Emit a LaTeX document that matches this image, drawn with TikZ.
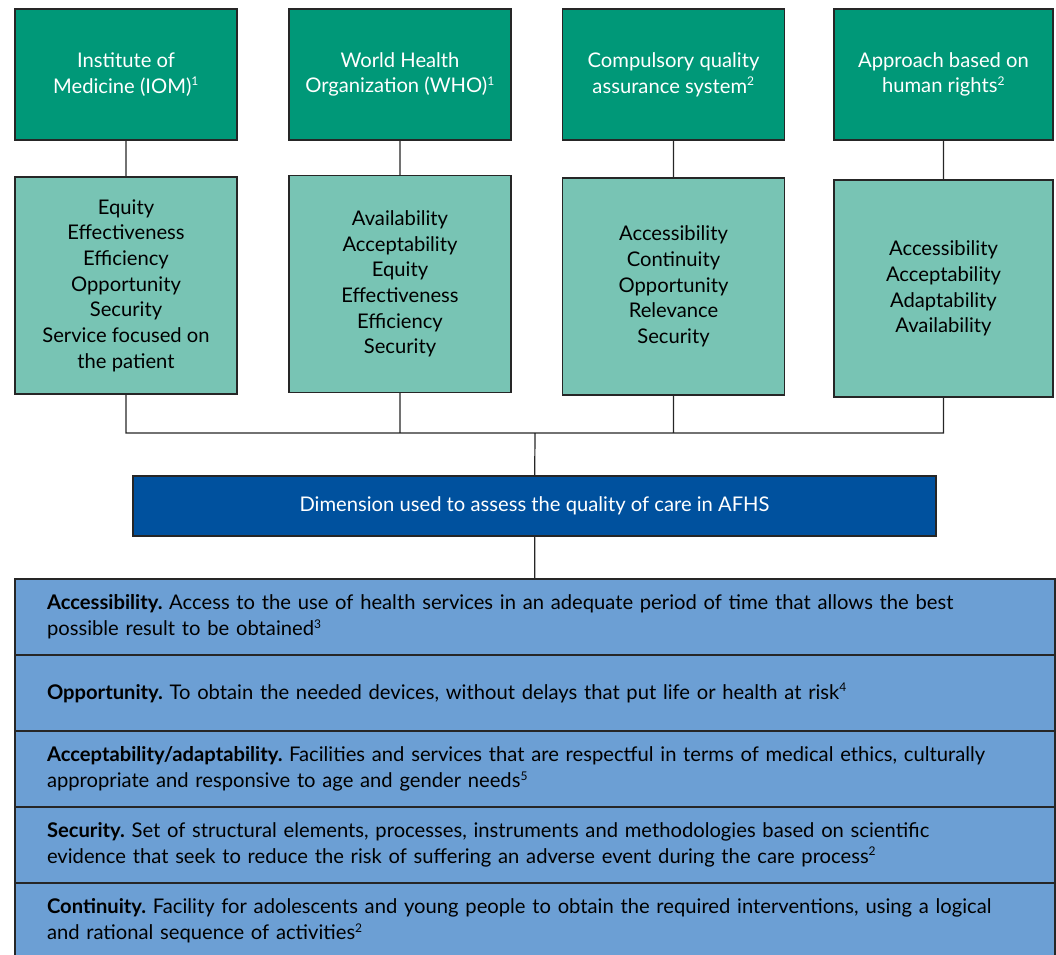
\documentclass[tikz,border=0pt]{standalone}
\usepackage{fontspec}
\setmainfont{Lato}
\usetikzlibrary{positioning}
\definecolor{orggreen}{RGB}{0,152,120}
\definecolor{dimgreen}{RGB}{120,196,180}
\definecolor{assessblue}{RGB}{0,81,158}
\definecolor{rowblue}{RGB}{108,159,212}
\newcommand{\refnum}[1]{\textsuperscript{\fontsize{12}{12}\selectfont #1}}
\frenchspacing

\begin{document}
\begin{tikzpicture}[x=1pt,y=-1pt,align=center,line width=1.2pt,
    every node/.style={outer sep=0pt,inner sep=0pt,font=\fontsize{20.2}{25.7}\selectfont},
    org/.style={draw=black!85,fill=orggreen,text=white,minimum width=222pt,minimum height=131pt},
    dim/.style={draw=black!85,fill=dimgreen,minimum width=222pt,minimum height=217pt},
    row/.style={draw=black!85,fill=rowblue,align=left,text width=976pt,inner xsep=32pt,minimum height=76pt}]
    \useasboundingbox (0,0) rectangle (1056,954);
    % sources
    \node[org] at (126,74.5) (iom) {Institute of\\Medicine (IOM)\refnum{1}};
    \node[org] at (400,74.5) (who) {World Health\\Organization (WHO)\refnum{1}};
    \node[org] at (673.5,74.5) (qas) {Compulsory quality\\assurance system\refnum{2}};
    \node[org, minimum width=219pt] at (943.5,74.5) (hr) {Approach based on\\human rights\refnum{2}};
    % dimensions per source
    \node[dim] at (126,285.5) (iomdim) {Equity\\Effectiveness\\Efficiency\\Opportunity\\Security\\Service focused on\\the patient};
    \node[dim] at (400,284) (whodim) {Availability\\Acceptability\\Equity\\Effectiveness\\Efficiency\\Security};
    \node[dim] at (673.5,286.5) (qasdim) {Accessibility\\Continuity\\Opportunity\\Relevance\\Security};
    \node[dim, minimum width=219pt] at (943.5,288.5) (hrdim) {Accessibility\\Acceptability\\Adaptability\\Availability};
    \coordinate (bus) at (535,433);
    \node[draw=black!85, fill=assessblue, text=white, minimum width=803pt, minimum height=60pt] at (534.5,506) (assess)
        {Dimension used to assess the quality of care in AFHS};
    % definitions
    \node[row] at (535,617) (rowacc) {\textbf{Accessibility.} Access to the use of health services in an adequate period of time that allows the best\\possible result to be obtained\refnum{3}};
    \node[row, below=0pt of rowacc] (rowopp) {\textbf{Opportunity.} To obtain the needed devices, without delays that put life or health at risk\refnum{4}};
    \node[row, below=0pt of rowopp] (rowacp) {\textbf{Acceptability/adaptability.} Facilities and services that are respectful in terms of medical ethics, culturally\\appropriate and responsive to age and gender needs\refnum{5}};
    \node[row, below=0pt of rowacp] (rowsec) {\textbf{Security.} Set of structural elements, processes, instruments and methodologies based on scientific\\evidence that seek to reduce the risk of suffering an adverse event during the care process\refnum{2}};
    \node[row, below=0pt of rowsec] (rowcon) {\textbf{Continuity.} Facility for adolescents and young people to obtain the required interventions, using a logical\\and rational sequence of activities\refnum{2}};
    \draw[black!85]
    (iom) -- (iomdim)
    (who) -- (whodim)
    (qas) -- (qasdim)
    (hr) -- (hrdim)
    (iomdim) |- (hrdim.south |- bus) -- (hrdim)
    (whodim) -- (whodim |- bus)
    (qasdim) -- (qasdim |- bus)
    (bus) -- (assess)
    (assess) -- (rowacc);
\end{tikzpicture}
\end{document}
